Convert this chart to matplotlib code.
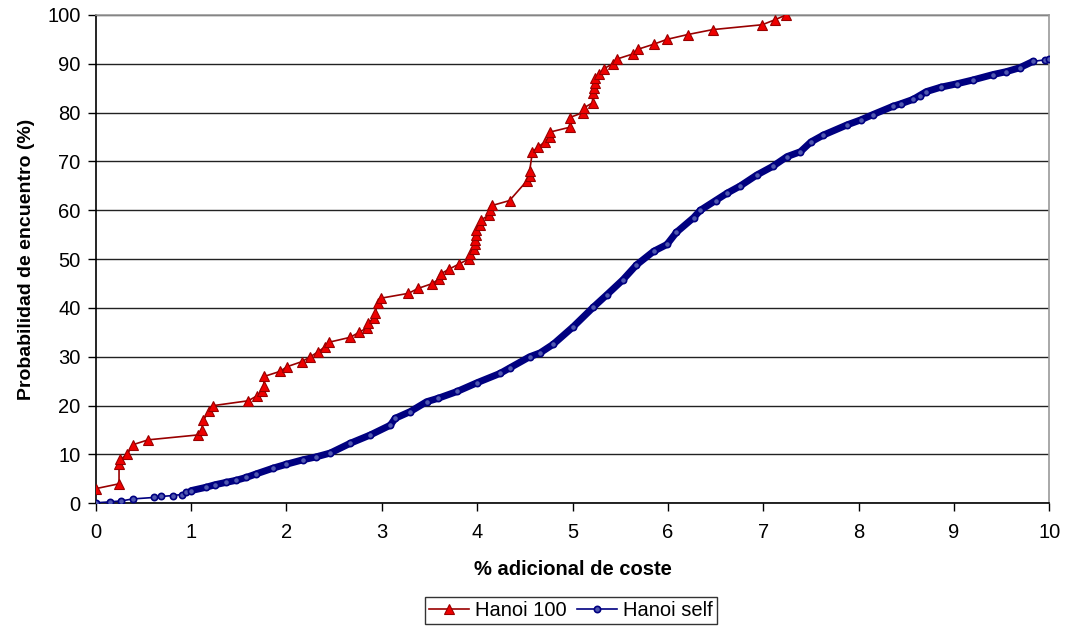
import matplotlib
matplotlib.use('Agg')
import matplotlib.pyplot as plt

# Hanoi 100 (red triangles)
hanoi100_x = [0.0, 0.245, 0.245, 0.26, 0.33, 0.39, 0.55, 1.07, 1.11, 1.13, 1.19, 1.23,
              1.60, 1.69, 1.74, 1.76, 1.77, 1.93, 2.01, 2.16, 2.25, 2.33, 2.40, 2.45,
              2.67, 2.76, 2.85, 2.86, 2.92, 2.93, 2.96, 2.99, 3.28, 3.38, 3.53, 3.60,
              3.62, 3.71, 3.81, 3.91, 3.92, 3.97, 3.98, 3.98, 3.99, 3.99, 4.03, 4.04,
              4.12, 4.14, 4.16, 4.34, 4.52, 4.55, 4.55, 4.58, 4.64, 4.71, 4.76, 4.76,
              4.97, 4.97, 5.11, 5.12, 5.21, 5.21, 5.23, 5.24, 5.24, 5.28, 5.33, 5.42,
              5.47, 5.63, 5.69, 5.85, 5.99, 6.21, 6.47, 6.99, 7.12, 7.24]
hanoi100_y = [3, 4, 8, 9, 10, 12, 13, 14, 15, 17, 19, 20,
              21, 22, 23, 24, 26, 27, 28, 29, 30, 31, 32, 33,
              34, 35, 36, 37, 38, 39, 41, 42, 43, 44, 45, 46,
              47, 48, 49, 50, 51, 52, 53, 54, 55, 56, 57, 58,
              59, 60, 61, 62, 66, 67, 68, 72, 73, 74, 75, 76,
              77, 79, 80, 81, 82, 84, 85, 86, 87, 88, 89, 90,
              91, 92, 93, 94, 95, 96, 97, 98, 99, 100]

# Hanoi self (blue circles)
hanoiself_x = [0.00, 0.15, 0.27, 0.39, 0.61, 0.69, 0.81, 0.90, 0.95, 1.00, 1.16, 1.25,
               1.37, 1.47, 1.58, 1.68, 1.86, 2.00, 2.17, 2.31, 2.46, 2.67, 2.88, 3.09,
               3.14, 3.30, 3.47, 3.59, 3.79, 4.00, 4.24, 4.34, 4.55, 4.66, 4.80, 5.01,
               5.22, 5.36, 5.53, 5.67, 5.85, 5.99, 6.09, 6.27, 6.34, 6.50, 6.62, 6.76,
               6.93, 7.10, 7.25, 7.39, 7.50, 7.63, 7.88, 8.02, 8.15, 8.36, 8.44, 8.57,
               8.64, 8.71, 8.86, 9.03, 9.20, 9.41, 9.55, 9.69, 9.83, 9.95, 10.0]
hanoiself_y = [0.1, 0.3, 0.5, 0.9, 1.2, 1.4, 1.6, 1.8, 2.3, 2.6, 3.3, 3.8,
               4.3, 4.7, 5.3, 6.0, 7.2, 8.0, 8.9, 9.5, 10.3, 12.3, 14.0, 16.0,
               17.4, 18.8, 20.8, 21.5, 22.9, 24.7, 26.6, 27.7, 30.0, 30.8, 32.6, 36.2,
               40.2, 42.7, 45.8, 48.8, 51.6, 53.0, 55.5, 58.5, 60.0, 62.0, 63.5, 65.0,
               67.2, 69.0, 71.0, 72.0, 74.0, 75.4, 77.5, 78.5, 79.6, 81.3, 81.8, 82.7,
               83.5, 84.3, 85.2, 85.9, 86.7, 87.8, 88.4, 89.2, 90.5, 90.8, 91.0]

x_ticks = list(range(0, 11))
y_ticks = list(range(0, 101, 10))

plt.rcParams['font.family'] = ['Liberation Sans', 'DejaVu Sans']

fig = plt.figure(figsize=(10.69, 6.29), dpi=100)
ax = fig.add_axes([0.0895, 0.1998, 0.8921, 0.7764])

# dense part of the self curve looks like a solid band of markers
ax.plot(hanoiself_x[9:-2], hanoiself_y[9:-2], color='#000080', lw=5,
        solid_capstyle='round', zorder=2)
ax.plot(hanoiself_x, hanoiself_y, color='#000080', lw=1.2, marker='o',
        markersize=4.5, markerfacecolor='#5058b0', markeredgecolor='#000080',
        markeredgewidth=1.2, label='Hanoi self', zorder=3)
ax.plot(hanoi100_x, hanoi100_y, color='#990000', lw=1.2, marker='^',
        markersize=7, markerfacecolor='#ee0000', markeredgecolor='#990000',
        markeredgewidth=0.8, label='Hanoi 100', zorder=4)

ax.set_xlim(0, 10)
ax.set_ylim(0, 100)
ax.set_xticks(x_ticks)
ax.set_yticks(y_ticks)
ax.yaxis.grid(True, color='#222222', lw=1.0)
ax.set_axisbelow(True)

ax.spines['left'].set_color('black')
ax.spines['bottom'].set_color('black')
ax.spines['top'].set_color('#999999')
ax.spines['right'].set_color('#999999')
for s in ax.spines.values():
    s.set_linewidth(1.2)

ax.tick_params(axis='both', direction='out', length=6, width=1, labelsize=14.5,
               color='black')
ax.tick_params(axis='x', pad=8)
ax.tick_params(axis='y', pad=5)

ax.set_xlabel('% adicional de coste', fontsize=14.5, fontweight='bold', labelpad=13)
ax.set_ylabel('Probabilidad de encuentro (%)', fontsize=14, fontweight='bold',
              labelpad=9)

handles, labels = ax.get_legend_handles_labels()
order = [labels.index('Hanoi 100'), labels.index('Hanoi self')]
leg = fig.legend([handles[i] for i in order], [labels[i] for i in order],
                 loc='center', bbox_to_anchor=(0.534, 0.030), ncol=2,
                 fontsize=14.5, frameon=True, fancybox=False, borderpad=0.2,
                 handlelength=2.0, handletextpad=0.3, columnspacing=0.5,
                 borderaxespad=0)
leg.get_frame().set_edgecolor('black')
leg.get_frame().set_linewidth(1.0)

fig.savefig('out.png', dpi=100)
